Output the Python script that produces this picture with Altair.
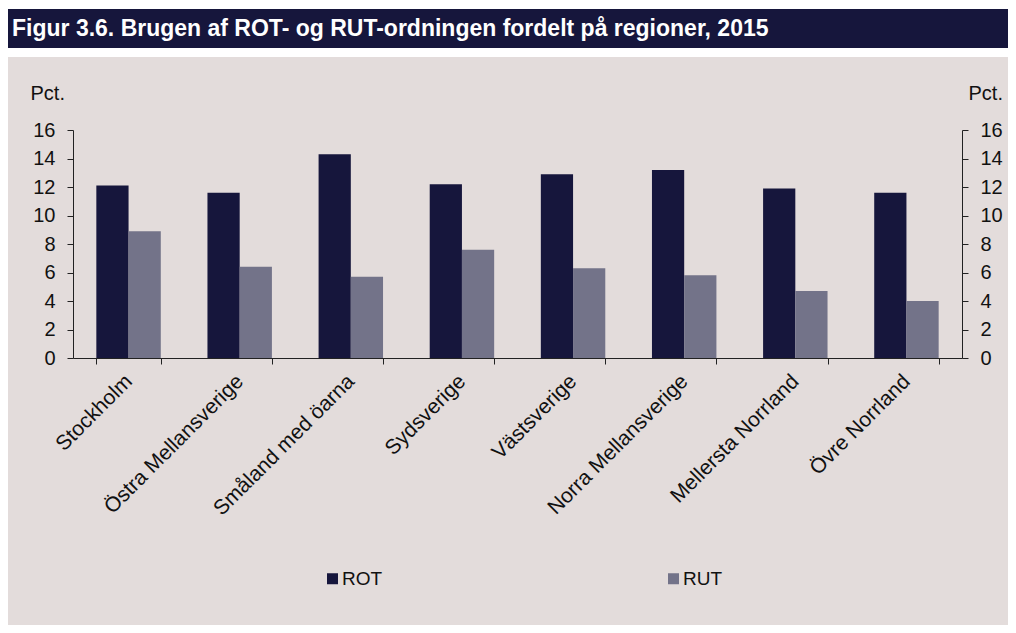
import altair as alt
import pandas as pd

regions = ["Stockholm", "Östra Mellansverige", "Småland med öarna", "Sydsverige",
           "Västsverige", "Norra Mellansverige", "Mellersta Norrland", "Övre Norrland"]
rot = [12.1, 11.6, 14.3, 12.2, 12.9, 13.2, 11.9, 11.6]
rut = [8.9, 6.4, 5.7, 7.6, 6.3, 5.8, 4.7, 4.0]
series = ["ROT", "RUT"]
y_ticks = [0, 2, 4, 6, 8, 10, 12, 14, 16]
title_text = "Figur 3.6. Brugen af ROT- og RUT-ordningen fordelt på regioner, 2015"
unit = "Pct."

NAVY = "#16163c"
GREY = "#737389"
BG = "#e3dcdb"
FONT = "Liberation Sans"
FS = 20

rows = []
for r, a, b in zip(regions, rot, rut):
    rows.append({"region": r, "series": "ROT", "value": a})
    rows.append({"region": r, "series": "RUT", "value": b})
df = pd.DataFrame(rows)

W, H = 889, 228

one = pd.DataFrame({"t": [title_text]})

bg = alt.Chart(one).mark_rect(color=BG).encode(
    x=alt.value(-65), x2=alt.value(935), y=alt.value(-73), y2=alt.value(495))
bar_top = alt.Chart(one).mark_rect(color=NAVY).encode(
    x=alt.value(-65), x2=alt.value(935), y=alt.value(-121), y2=alt.value(-82))
title = alt.Chart(one).mark_text(
    color="white", font=FONT, fontSize=23, fontWeight="bold", align="left", baseline="middle"
).encode(text="t:N", x=alt.value(-61), y=alt.value(-101))

x_enc = alt.X("region:N", sort=regions, title=None,
              scale=alt.Scale(paddingInner=0.42, paddingOuter=0.21),
              axis=alt.Axis(labelAngle=-45, labelFontSize=21, labelFont=FONT, labelColor="#111",
                            labelAlign="right", labelBaseline="middle",
                            labelPadding=14, tickBand="extent", tickSize=6, tickColor="#222",
                            domainColor="#222", zindex=1, labelLimit=300))

y_scale = alt.Scale(domain=[0, 16], nice=False)

def y_axis(orient, tx):
    return alt.Axis(values=y_ticks, grid=False, orient=orient, title=unit,
                    titleAngle=0, titleX=tx, titleY=-37, titleAlign="left",
                    titleBaseline="middle", titleFontSize=FS, titleFontWeight="normal",
                    titleFont=FONT, titleColor="#111",
                    labelFontSize=FS, labelFont=FONT, labelColor="#111", labelPadding=12,
                    tickSize=6, tickColor="#222", domainColor="#222", zindex=1)

bars = alt.Chart(df).mark_bar().encode(
    x=x_enc,
    xOffset=alt.XOffset("series:N", sort=series, scale=alt.Scale(paddingInner=0, paddingOuter=0)),
    y=alt.Y("value:Q", scale=y_scale, axis=y_axis("left", -43)),
    color=alt.Color("series:N", sort=series,
                    scale=alt.Scale(domain=series, range=[NAVY, GREY]),
                    legend=alt.Legend(orient="none", legendX=250, legendY=439, direction="horizontal",
                                      title=None, symbolType="square", symbolSize=121,
                                      symbolStrokeWidth=0, labelFontSize=19, labelFont=FONT,
                                      labelColor="#111", columnPadding=281, labelOffset=0,
                                      padding=0, zindex=1)),
)

bars_right = alt.Chart(df).mark_bar(opacity=0).encode(
    x=alt.X("region:N", sort=regions),
    y=alt.Y("value:Q", scale=y_scale, axis=y_axis("right", 6)),
)

chart = alt.layer(bg, bar_top, title, bars, bars_right).resolve_scale(
    y="independent"
).properties(
    width=W, height=H,
    autosize=alt.AutoSizeParams(type="none"),
    padding={"left": 65, "top": 122, "right": 46, "bottom": 267},
    background="white",
).configure_view(stroke=None)

chart.save("out.html", embed_options={"renderer": "svg", "actions": False})
